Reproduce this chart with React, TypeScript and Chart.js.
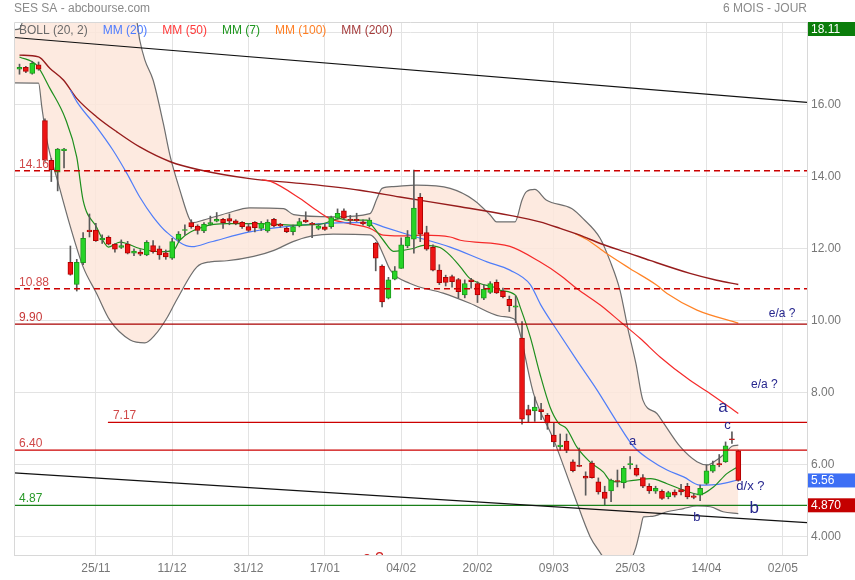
import React, { useEffect, useRef } from "react";
import { Chart, registerables } from "chart.js";

Chart.register(...registerables);

const FONT = '"Liberation Sans", Arial, Helvetica, sans-serif';

// ---- axes ----
const X_MIN = -0.865;
const X_MAX = 123.8;
const Y_MIN = 3.49;
const Y_MAX = 18.29;
const xTickIdx = [12, 24, 36, 48, 60, 72, 84, 96, 108, 120];
const xTickLabels = ["25/11", "11/12", "31/12", "17/01", "04/02", "20/02", "09/03", "25/03", "14/04", "02/05"];
const yTickValues = [4, 6, 8, 10, 12, 14, 16, 18];

// ---- candles (one per trading day) ----
const opens = [
  16.98, 17.03, 16.86, 17.1, 15.55, 14.45, 14.12, 14.72, 11.62, 11.0,
  11.61, 12.51, 12.51, 12.24, 12.31, 12.12, 12.03, 12.12, 11.87, 11.9,
  11.82, 12.08, 11.99, 11.88, 11.73, 12.25, 12.5, 12.72, 12.62, 12.49,
  12.67, 12.76, 12.81, 12.83, 12.77, 12.73, 12.61, 12.73, 12.56, 12.49,
  12.81, 12.67, 12.56, 12.47, 12.63, 12.79, 12.7, 12.56, 12.6, 12.61,
  12.84, 13.05, 12.8, 12.81, 12.74, 12.63, 12.15, 11.51, 10.62, 11.15,
  11.45, 12.07, 12.26, 13.42, 12.44, 12.03, 11.4, 11.2, 11.22, 11.14,
  10.71, 11.13, 11.03, 10.62, 10.78, 11.06, 10.82, 10.59, 10.37, 9.51,
  7.53, 7.49, 7.53, 7.37, 6.82, 6.5, 6.65, 6.08, 5.97, 5.68,
  6.04, 5.52, 5.24, 5.27, 5.55, 5.5, 6.0, 5.9, 5.64, 5.4,
  5.26, 5.26, 5.11, 5.24, 5.31, 5.4, 5.13, 5.15, 5.48, 5.82,
  6.03, 6.08, 6.71, 6.38,
];
const closes = [
  17.03, 16.92, 17.14, 16.98, 14.45, 14.18, 14.76, 14.76, 11.28, 11.62,
  12.28, 12.47, 12.22, 12.29, 12.12, 11.98, 12.08, 11.87, 11.93, 11.84,
  12.17, 11.91, 11.82, 11.77, 12.19, 12.4, 12.52, 12.61, 12.5, 12.67,
  12.72, 12.81, 12.72, 12.76, 12.7, 12.61, 12.5, 12.58, 12.7, 12.73,
  12.63, 12.63, 12.47, 12.61, 12.75, 12.74, 12.67, 12.63, 12.53, 12.86,
  12.98, 12.84, 12.78, 12.77, 12.68, 12.79, 11.73, 10.52, 11.13, 11.38,
  12.1, 12.31, 13.12, 12.4, 11.98, 11.4, 11.05, 11.06, 11.08, 10.8,
  11.03, 11.08, 10.71, 10.87, 11.03, 10.77, 10.66, 10.41, 10.41, 7.26,
  7.37, 7.6, 7.47, 7.16, 6.63, 6.54, 6.4, 5.83, 5.95, 5.62,
  5.64, 5.24, 5.06, 5.57, 5.53, 5.9, 6.02, 5.71, 5.4, 5.27,
  5.34, 5.06, 5.22, 5.15, 5.24, 5.1, 5.09, 5.34, 5.83, 5.99,
  5.99, 6.52, 6.69, 5.56,
];
const highs = [
  17.12, 17.06, 17.2, 17.18, 15.6, 14.5, 14.78, 14.78, 12.07, 11.7,
  12.44, 12.96, 12.7, 12.38, 12.35, 12.14, 12.24, 12.2, 11.99, 11.97,
  12.22, 12.22, 12.07, 11.96, 12.28, 12.47, 12.66, 12.8, 12.66, 12.72,
  12.9, 13.0, 12.84, 12.96, 12.8, 12.75, 12.7, 12.75, 12.75, 12.8,
  12.84, 12.7, 12.6, 12.65, 12.84, 13.02, 12.73, 12.68, 12.68, 12.9,
  13.1, 13.1, 12.92, 12.98, 12.8, 12.85, 12.17, 11.55, 11.2, 11.5,
  12.3, 12.5, 14.18, 13.53, 12.62, 12.1, 11.55, 11.26, 11.26, 11.17,
  11.13, 11.17, 11.08, 10.99, 11.08, 11.13, 10.9, 10.68, 10.68, 9.97,
  7.65, 7.88, 7.7, 7.42, 7.15, 6.85, 6.85, 6.13, 6.46, 5.8,
  6.1, 5.63, 5.4, 5.6, 5.85, 5.95, 6.22, 5.99, 5.72, 5.47,
  5.4, 5.3, 5.26, 5.3, 5.45, 5.48, 5.2, 5.43, 5.99, 6.1,
  6.28, 6.63, 6.91, 6.4,
];
const lows = [
  16.84, 16.88, 16.84, 16.95, 14.42, 13.86, 13.6, 14.24, 11.26, 10.82,
  11.55, 12.32, 12.2, 12.14, 12.1, 11.9, 12.0, 11.85, 11.8, 11.8,
  11.8, 11.87, 11.7, 11.7, 11.7, 12.2, 12.38, 12.56, 12.4, 12.44,
  12.65, 12.74, 12.56, 12.66, 12.66, 12.56, 12.47, 12.46, 12.5, 12.45,
  12.6, 12.59, 12.44, 12.38, 12.6, 12.72, 12.3, 12.52, 12.5, 12.56,
  12.82, 12.8, 12.68, 12.75, 12.65, 12.6, 11.38, 10.38, 10.6, 11.13,
  11.45, 12.02, 11.87, 12.19, 11.95, 11.38, 11.0, 10.96, 10.93, 10.63,
  10.63, 10.9, 10.5, 10.58, 10.75, 10.75, 10.63, 10.25, 9.94, 7.12,
  7.19, 7.2, 7.25, 6.98, 6.5, 6.4, 6.33, 5.8, 5.94, 5.15,
  5.62, 5.18, 4.87, 4.97, 5.38, 5.35, 5.88, 5.68, 5.36, 5.2,
  5.2, 5.03, 5.05, 5.1, 5.16, 5.05, 5.05, 5.0, 5.45, 5.78,
  5.94, 6.06, 6.59, 5.54,
];

// ---- indicators: [day index, value] ----
const mm200Pts = [
  [0, 17.37], [3, 17.32], [4.8, 17.0], [6.9, 16.68], [9, 16.17], [12.1, 15.66], [15.3, 15.24],
  [18.9, 14.82], [23.7, 14.41], [28.4, 14.18], [36.2, 13.94], [44.1, 13.81], [53.5, 13.62],
  [59.8, 13.43], [69.3, 13.16], [77.1, 12.92], [81.8, 12.74], [85, 12.56], [88.1, 12.37],
  [91.3, 12.14], [96, 11.86], [99.1, 11.67], [105.4, 11.31], [109.6, 11.12], [113, 11.0],
];
const mm100Pts = [
  [87.3, 12.42], [89.2, 12.25], [92.3, 11.86], [96, 11.44], [100.2, 10.98], [101.8, 10.75],
  [106.5, 10.29], [113, 9.93],
];
const mm50Pts = [
  [38.1, 13.91], [39.4, 13.87], [44.1, 13.39], [46.7, 13.06], [48.8, 12.83], [51.9, 12.69],
  [55.1, 12.56], [57.2, 12.37], [59.8, 12.35], [63.5, 12.37], [67.7, 12.32], [69.3, 12.23],
  [77.1, 12.06], [81.8, 11.63], [85, 11.26], [87.6, 10.89], [91.3, 10.43], [94.5, 9.96],
  [97.6, 9.5], [100.7, 8.99], [105.4, 8.34], [108.6, 7.97], [113, 7.42],
];
const mm20Pts = [
  [8, 16.4], [9, 16.08], [12.1, 15.38], [14.7, 14.73], [16.9, 14.08], [18.9, 13.43], [21, 12.88],
  [23.1, 12.46], [27.1, 12.05], [30, 12.18], [36.2, 12.46], [44.1, 12.65], [51.9, 12.72],
  [55.1, 12.72], [57.2, 12.6], [61.4, 12.37], [67.7, 12.04], [73.5, 11.63], [77.1, 11.4],
  [80.3, 11.0], [81.9, 10.45], [84.5, 9.73], [87.6, 8.9], [90.8, 8.07], [93.9, 7.19],
  [96.5, 6.51], [99.2, 6.12], [101.8, 5.85], [104.4, 5.66], [107, 5.43], [110.1, 5.46], [113, 5.58],
];
const mm7Pts = [
  [0, 17.32], [2.7, 17.09], [4.8, 16.44], [7.2, 15.61], [9, 14.54], [10, 13.34], [12.1, 12.6],
  [14, 12.04], [15.8, 12.18], [18.9, 12.0], [22.1, 11.91], [24.2, 11.95], [25.2, 12.23],
  [28.9, 12.6], [32.6, 12.69], [37.8, 12.69], [43.1, 12.65], [47.2, 12.67], [50.4, 12.83],
  [51.4, 12.79], [54.6, 12.79], [55.6, 12.6], [57.2, 12.23], [58.8, 11.92], [60.3, 11.95],
  [61.9, 12.0], [63.5, 12.09], [66.1, 12.03], [67.7, 11.81], [69.3, 11.49], [70.8, 11.17],
  [72.4, 11.03], [74.5, 10.93], [75.6, 10.84], [78, 10.7], [78.7, 10.38], [80.3, 9.54],
  [81.8, 8.53], [83.4, 7.6], [84.7, 7.16], [86, 7.0], [87.6, 6.49], [89.7, 6.07], [91.8, 5.79],
  [92.8, 5.56], [93.9, 5.52], [96.5, 5.56], [99.2, 5.61], [101.8, 5.47], [104.4, 5.29],
  [107, 5.17], [109.1, 5.38], [111.2, 5.75], [113, 5.95],
];
const bollUpPts = [
  [-0.865, 18.08], [0, 18.1], [1, 18.6], [6, 19.2], [14, 19.0], [17, 18.6], [18.4, 18.34],
  [18.9, 17.79], [19.7, 17.24], [21, 16.68], [22.6, 15.48], [23.7, 14.55], [25.2, 13.63],
  [26.8, 12.79], [27.3, 12.72], [28.9, 12.79], [32.6, 12.98], [36.2, 13.13], [41.5, 13.11],
  [43.1, 12.94], [49.3, 12.88], [55.1, 12.97], [56.2, 13.39], [57, 13.67], [58.8, 13.72],
  [62.4, 13.76], [67.7, 13.67], [71.4, 13.35], [74, 12.93], [75, 12.74], [77.9, 12.74],
  [79, 13.35], [79.7, 13.58], [81, 13.64], [82.8, 13.35], [86.8, 13.11], [88.6, 12.83],
  [91.3, 12.28], [92.8, 11.67], [94.4, 10.84], [95.7, 9.73], [96.9, 8.81], [98, 7.79],
  [100.2, 7.42], [100.7, 7.3], [103.9, 6.49], [106.5, 6.08], [108.1, 5.99], [109.6, 6.13],
  [110.9, 6.31], [112, 6.51], [113, 6.54],
];
const bollLowPts = [
  [-0.865, 16.6], [3, 16.59], [3.5, 15.94], [4.3, 15.01], [6.1, 13.81], [8, 12.6], [10, 11.49],
  [12.1, 10.76], [14.2, 10.01], [17.4, 9.46], [19.7, 9.38], [21.3, 9.6], [23.1, 10.05],
  [24.7, 10.57], [27.9, 11.49], [30, 11.63], [32.6, 11.66], [36.8, 11.78], [40, 11.95],
  [43.1, 12.2], [46, 12.35], [49.3, 12.4], [55.1, 12.38], [56.2, 12.2], [57.2, 11.83],
  [58.3, 11.4], [61.4, 11.03], [66.6, 10.76], [70.8, 10.48], [75.6, 10.12], [77.7, 10.05],
  [78.4, 9.82], [80.8, 7.98], [84, 6.68], [87.1, 5.2], [89.7, 4.0], [91.3, 3.55], [92.7, 3.2],
  [94, 2.9], [95.7, 3.2], [96.9, 3.7], [97.6, 4.2], [98.1, 4.55], [99.2, 4.56], [101.8, 4.69],
  [104.4, 4.78], [106.5, 4.85], [108.6, 4.83], [110.6, 4.69], [113, 4.64],
];

// ---- drawn levels and trend lines ----
const levelValues = [14.16, 10.88, 9.9, 7.17, 6.4, 4.87];
const levelLabels = ["14.16", "10.88", "9.90", "7.17", "6.40", "4.87"];
const levelStarts = [X_MIN, X_MIN, X_MIN, 13.9, X_MIN, X_MIN];
const trendUpper = [[X_MIN, 17.86], [X_MAX, 16.06]];
const trendLower = [[X_MIN, 5.77], [X_MAX, 4.39]];

// ---- right-hand value markers ----
const markerValues = [18.11, 5.56, 4.87];
const markerLabels = ["18.11", "5.56", "4.870"];

// ---- wave annotations: text, day index, value ----
const noteTexts = ["e/a ?", "e/a ?", "a", "c", "a", "d/x ?", "b", "b", "e ?"];
const noteIdx = [119.9, 117.1, 110.6, 111.3, 96.4, 114.9, 115.5, 106.5, 55.6];
const noteVals = [10.2, 8.23, 7.6, 7.09, 6.63, 5.4, 4.78, 4.54, 3.41];

// ---- styles ----
const levelColors = ["#cc0000", "#cc0000", "#a80000", "#cc0000", "#cc0000", "#1a7f1a"];
const levelDash = [[6, 4], [6, 4], [], [], [], []];
const levelTextColors = ["#d04848", "#d04848", "#c83838", "#d04848", "#d04848", "#2a9a2a"];
const markerColors = ["#0b7d0b", "#3d6ff5", "#c40000"];
const noteSizes = [12, 12, 17, 13, 13, 13, 17, 13, 15];
const noteColors = ["#26268e", "#26268e", "#26268e", "#26268e", "#26268e", "#26268e", "#26268e", "#26268e", "#d02020"];
const legendItems = [
  ["BOLL (20, 2)", "#6a6a6a"],
  ["MM (20)", "#4d7cff"],
  ["MM (50)", "#ff3b3b"],
  ["MM (7)", "#1f961f"],
  ["MM (100)", "#ff7f24"],
  ["MM (200)", "#a43a3a"],
];

const toXY = (pts: number[][]) => pts.map(([x, y]) => ({ x, y }));

const overlayPlugin = {
  id: "overlay",
  afterDatasetsDraw(chart: any) {
    const { ctx, chartArea: ca, scales } = chart;
    const xs = scales.x;
    const ys = scales.y;
    ctx.save();
    ctx.beginPath();
    ctx.rect(ca.left, ca.top, ca.right - ca.left, ca.bottom - ca.top);
    ctx.clip();
    // level labels
    ctx.textAlign = "left";
    ctx.textBaseline = "alphabetic";
    ctx.font = `12px ${FONT}`;
    levelValues.forEach((v, k) => {
      const py = ys.getPixelForValue(v);
      const px = Math.max(ca.left, xs.getPixelForValue(levelStarts[k])) + 5;
      ctx.fillStyle = levelTextColors[k];
      ctx.fillText(levelLabels[k], px, py - 3);
    });
    // annotations
    ctx.textAlign = "center";
    ctx.textBaseline = "middle";
    noteTexts.forEach((t, k) => {
      ctx.font = `${noteSizes[k]}px ${FONT}`;
      ctx.fillStyle = noteColors[k];
      ctx.fillText(t, xs.getPixelForValue(noteIdx[k]), ys.getPixelForValue(noteVals[k]));
    });
    // legend
    ctx.textAlign = "left";
    ctx.font = `12px ${FONT}`;
    let lx = ca.left + 5;
    legendItems.forEach(([t, c]) => {
      ctx.fillStyle = c;
      ctx.fillText(t, lx, ca.top + 9);
      lx += ctx.measureText(t).width + 15;
    });
    ctx.restore();
  },
  afterDraw(chart: any) {
    const { ctx, chartArea: ca, scales, width } = chart;
    const ys = scales.y;
    ctx.save();
    // frame
    ctx.strokeStyle = "#d8d8d8";
    ctx.lineWidth = 1;
    ctx.beginPath();
    ctx.moveTo(ca.left + 0.5, ca.bottom);
    ctx.lineTo(ca.left + 0.5, ca.top + 0.5);
    ctx.lineTo(ca.right, ca.top + 0.5);
    ctx.stroke();
    // title
    ctx.font = `12px ${FONT}`;
    ctx.fillStyle = "#8a8a8a";
    ctx.textBaseline = "middle";
    ctx.textAlign = "left";
    ctx.fillText("SES SA - abcbourse.com", ca.left, 9);
    ctx.textAlign = "right";
    ctx.fillText("6 MOIS - JOUR", ca.right, 9);
    // value markers
    ctx.textAlign = "left";
    ctx.font = `12px ${FONT}`;
    markerValues.forEach((v, k) => {
      const py = Math.max(ca.top + 7, ys.getPixelForValue(v));
      ctx.fillStyle = markerColors[k];
      ctx.fillRect(ca.right + 1, py - 7, width - ca.right - 1, 14);
      ctx.fillStyle = "#ffffff";
      ctx.fillText(markerLabels[k], ca.right + 4, py + 0.5);
    });
    ctx.restore();
  },
};

export default function App() {
  const ref = useRef<HTMLCanvasElement | null>(null);
  useEffect(() => {
    document.body.style.margin = "0";
    const canvas = ref.current;
    if (!canvas) return;
    Chart.defaults.font.family = FONT;

    const upColor = "#27d427";
    const downColor = "#ee1414";
    const isUp = opens.map((o, i) => closes[i] >= o);

    const lineBase = {
      type: "line",
      pointRadius: 0,
      borderWidth: 1.2,
      fill: false,
      cubicInterpolationMode: "monotone",
    };

    const datasets: any[] = [
      { ...lineBase, data: toXY(bollUpPts), borderColor: "#6e6e6e", fill: "+1", backgroundColor: "rgba(253,230,218,0.85)", order: 30 },
      { ...lineBase, data: toXY(bollLowPts), borderColor: "#6e6e6e", order: 29 },
      { ...lineBase, data: toXY(mm100Pts), borderColor: "#ff8326", order: 26 },
      { ...lineBase, data: toXY(mm200Pts), borderColor: "#961c1c", borderWidth: 1.4, order: 25 },
      { ...lineBase, data: toXY(mm50Pts), borderColor: "#f52a2a", order: 24 },
      { ...lineBase, data: toXY(mm20Pts), borderColor: "#4f7df9", order: 23 },
      { ...lineBase, data: toXY(mm7Pts), borderColor: "#1e8f1e", order: 22 },
      {
        type: "bar",
        data: highs.map((h, i) => ({ x: i, y: [lows[i], h] })),
        backgroundColor: "#5a5a5a",
        barThickness: 1,
        grouped: false,
        order: 12,
      },
      {
        type: "bar",
        data: opens.map((o, i) => ({ x: i, y: [o, closes[i]] })),
        backgroundColor: isUp.map((u) => (u ? upColor : downColor)),
        borderColor: isUp.map((u) => (u ? "#1c9a1c" : "#b00000")),
        borderWidth: 1,
        borderSkipped: false,
        barThickness: 5,
        minBarLength: 1,
        grouped: false,
        order: 11,
      },
      ...levelValues.map((v, k) => ({
        type: "line",
        data: [{ x: levelStarts[k], y: v }, { x: X_MAX, y: v }],
        borderColor: levelColors[k],
        borderDash: levelDash[k],
        borderWidth: levelDash[k].length ? 1.5 : 1.3,
        pointRadius: 0,
        fill: false,
        order: 5,
      })),
      { type: "line", data: toXY(trendUpper), borderColor: "#111111", borderWidth: 1.2, pointRadius: 0, fill: false, order: 4 },
      { type: "line", data: toXY(trendLower), borderColor: "#111111", borderWidth: 1.2, pointRadius: 0, fill: false, order: 4 },
    ];

    const chart = new Chart(canvas, {
      type: "line",
      data: { datasets },
      options: {
        responsive: false,
        animation: false,
        events: [],
        layout: { padding: { left: 14, top: 22, right: 0, bottom: 0 } },
        plugins: {
          legend: { display: false },
          title: { display: false },
          tooltip: { enabled: false },
        },
        scales: {
          x: {
            type: "linear",
            min: X_MIN,
            max: X_MAX,
            offset: false,
            afterBuildTicks: (s: any) => {
              s.ticks = xTickIdx.map((v) => ({ value: v }));
            },
            afterFit: (s: any) => {
              s.height = 25;
            },
            grid: { color: "#e3e3e3", drawTicks: false, offset: false },
            border: { color: "#d8d8d8" },
            ticks: {
              autoSkip: false,
              maxRotation: 0,
              padding: 6,
              color: "#777777",
              font: { size: 12, family: FONT },
              callback: (v: any) => {
                const k = xTickIdx.indexOf(Number(v));
                return k >= 0 ? xTickLabels[k] : "";
              },
            },
          },
          y: {
            type: "linear",
            position: "right",
            min: Y_MIN,
            max: Y_MAX,
            beginAtZero: false,
            afterBuildTicks: (s: any) => {
              s.ticks = yTickValues.map((v) => ({ value: v }));
            },
            afterFit: (s: any) => {
              s.width = 48;
            },
            grid: { color: "#e3e3e3", drawTicks: false },
            border: { color: "#d8d8d8" },
            ticks: {
              padding: 4,
              color: "#777777",
              font: { size: 12, family: FONT },
              callback: (v: any) => {
                const n = Number(v);
                if (n === 18) return "";
                if (n === 4) return "4.000";
                return n.toFixed(2);
              },
            },
          },
        },
      },
      plugins: [overlayPlugin],
    } as any);

    return () => chart.destroy();
  }, []);

  return (
    <div style={{ position: "relative", width: 855, height: 580, background: "#ffffff" }}>
      <canvas ref={ref} width={855} height={580} style={{ display: "block", width: 855, height: 580 }} />
    </div>
  );
}
